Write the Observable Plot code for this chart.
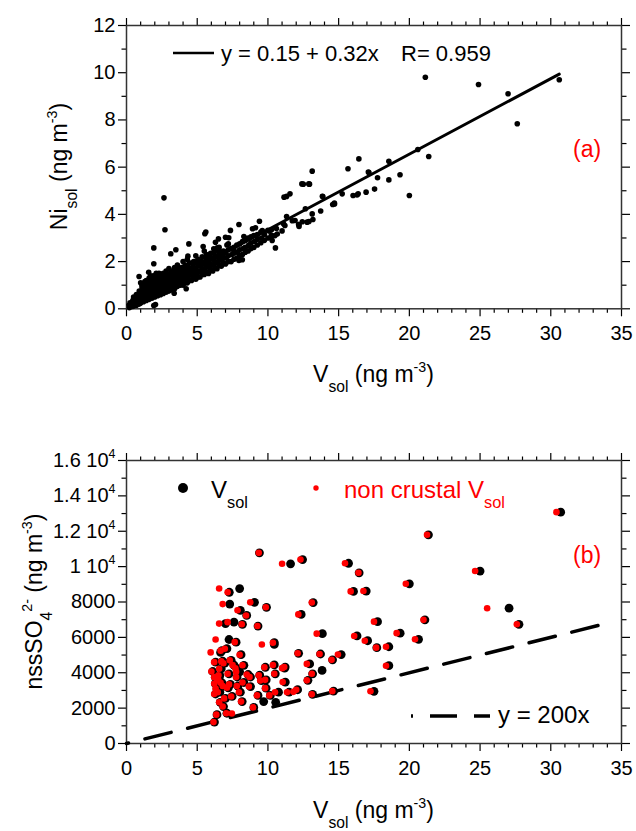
<!DOCTYPE html>
<html><head><meta charset="utf-8">
<script src="https://cdn.jsdelivr.net/npm/d3@7"></script>
<script src="https://cdn.jsdelivr.net/npm/@observablehq/plot@0.6"></script>
<style>
body{margin:0;background:#fff;}
#chart{width:636px;}
svg{display:block;}
</style></head><body><div id="chart"></div>
<script>
// ---------- Panel (a): V_sol vs Ni_sol, [V, Ni] ----------
const panelA = [
[0.2,0.05],[0.2,0.15],[0.25,0.25],[0.4,0.1],[0.4,0.2],[0.45,0.35],[0.5,0.12],[0.55,0.3],[0.5,0.5],[0.7,0.15],[0.7,0.3],[0.75,0.45],[0.7,0.6],[0.9,0.2],[0.9,0.35],[0.95,0.5],[0.9,0.75],[1.0,0.25],[1.05,0.45],[1.0,0.6],[1.1,0.9],[1.0,1.1],[1.2,0.3],[1.25,0.5],[1.2,0.7],[1.3,0.85],[1.2,1.05],[1.4,0.35],[1.45,0.55],[1.4,0.75],[1.5,0.95],[1.4,1.2],[1.6,0.4],[1.65,0.6],[1.6,0.8],[1.7,1.0],[1.6,1.3],[1.8,0.45],[1.85,0.65],[1.8,0.85],[1.9,1.05],[1.8,1.25],[2.0,0.5],[2.05,0.7],[2.0,0.9],[2.1,1.1],[2.0,1.35],[2.1,1.5],[2.2,0.55],[2.25,0.8],[2.2,0.95],[2.3,1.15],[2.2,1.4],[2.4,0.6],[2.45,0.8],[2.4,1.0],[2.5,1.2],[2.4,1.45],[2.6,0.65],[2.65,0.85],[2.6,1.05],[2.7,1.25],[2.6,1.5],[2.8,0.7],[2.85,0.9],[2.8,1.1],[2.9,1.3],[2.8,1.6],[3.0,0.75],[3.05,0.95],[3.0,1.15],[3.1,1.35],[3.0,1.7],[3.2,0.8],[3.25,1.0],[3.2,1.2],[3.3,1.4],[3.2,1.6],[3.4,0.85],[3.45,1.05],[3.4,1.25],[3.5,1.5],[3.4,1.75],[3.6,0.95],[3.65,1.15],[3.6,1.3],[3.7,1.55],[3.6,1.85],[3.8,1.0],[3.85,1.2],[3.8,1.4],[3.9,1.6],[4.0,1.0],[4.05,1.2],[4.0,1.45],[4.1,1.7],[4.0,2.0],[4.3,1.1],[4.35,1.3],[4.3,1.5],[4.4,1.75],[4.3,2.1],[4.6,1.2],[4.65,1.4],[4.6,1.6],[4.7,1.85],[4.9,1.25],[4.95,1.5],[4.9,1.7],[5.0,1.95],[4.9,2.25],[5.2,1.35],[5.25,1.55],[5.2,1.8],[5.3,2.0],[5.5,1.45],[5.55,1.65],[5.5,1.9],[5.6,2.15],[5.5,2.45],[5.8,1.5],[5.85,1.75],[5.8,2.0],[5.9,2.25],[6.1,1.6],[6.15,1.85],[6.1,2.1],[6.2,2.4],[6.4,1.7],[6.45,1.95],[6.4,2.2],[6.5,2.5],[6.7,1.8],[6.75,2.05],[6.7,2.3],[7.0,1.9],[7.05,2.15],[7.0,2.4],[7.1,2.7],[7.4,2.0],[7.45,2.3],[7.4,2.55],[7.8,2.15],[7.85,2.4],[7.8,2.7],[8.2,2.3],[8.25,2.55],[8.2,2.85],[8.6,2.45],[8.65,2.7],[8.6,3.0],[9.0,2.6],[9.05,2.85],[9.0,3.1],[9.5,2.8],[9.55,3.0],[9.5,3.25],[10.0,3.0],[10.1,3.3],[10.5,3.1],[10.6,3.4],[11.0,3.3],[11.1,3.6],
[0.3,0.1],[0.3,0.2],[0.5,0.2],[0.5,0.4],[0.6,0.25],[0.8,0.25],[0.8,0.4],[0.8,0.6],[1.1,0.35],[1.1,0.55],[1.1,0.75],[1.1,1.0],[1.3,0.4],[1.3,0.6],[1.3,0.95],[1.3,1.15],[1.5,0.45],[1.5,0.65],[1.5,0.85],[1.5,1.1],[1.7,0.5],[1.7,0.7],[1.7,0.9],[1.7,1.15],[1.7,1.4],[1.9,0.55],[1.9,0.75],[1.9,0.95],[1.9,1.2],[1.9,1.4],[2.1,0.6],[2.1,0.8],[2.1,1.0],[2.1,1.25],[2.3,0.65],[2.3,0.85],[2.3,1.05],[2.3,1.3],[2.3,1.5],[2.5,0.7],[2.5,0.9],[2.5,1.1],[2.5,1.35],[2.7,0.75],[2.7,0.95],[2.7,1.15],[2.7,1.4],[2.9,0.8],[2.9,1.0],[2.9,1.2],[2.9,1.45],[3.1,0.85],[3.1,1.05],[3.1,1.25],[3.1,1.5],[3.3,0.9],[3.3,1.1],[3.3,1.3],[3.3,1.55],[3.5,0.95],[3.5,1.15],[3.5,1.35],[3.5,1.6],[3.7,1.0],[3.7,1.2],[3.7,1.45],[3.7,1.7],[3.9,1.05],[3.9,1.3],[3.9,1.5],[3.9,1.75],[4.15,1.1],[4.15,1.35],[4.15,1.6],[4.15,1.85],[4.45,1.2],[4.45,1.45],[4.45,1.65],[4.45,1.95],[4.75,1.3],[4.75,1.55],[4.75,1.75],[4.75,2.0],[5.05,1.35],[5.05,1.6],[5.05,1.85],[5.05,2.1],[5.35,1.45],[5.35,1.7],[5.35,1.95],[5.35,2.2],[5.65,1.55],[5.65,1.8],[5.65,2.05],[5.65,2.3],[5.95,1.65],[5.95,1.9],[5.95,2.15],[5.95,2.35],[6.25,1.75],[6.25,2.0],[6.25,2.25],[6.25,2.5],[6.55,1.85],[6.55,2.1],[6.55,2.35],[6.55,2.6],[6.85,1.95],[6.85,2.2],[6.85,2.45],[7.2,2.0],[7.2,2.25],[7.2,2.5],[7.2,2.75],[7.6,2.1],[7.6,2.35],[7.6,2.6],[8.0,2.25],[8.0,2.5],[8.0,2.75],[8.4,2.4],[8.4,2.6],[8.4,2.9],[8.8,2.55],[8.8,2.8],[8.8,3.05],[9.25,2.7],[9.25,2.95],[9.25,3.15],[9.75,2.9],[9.75,3.15],[10.25,3.05],[10.25,3.35],
[21.13,9.81],[24.89,9.5],[26.98,9.11],[30.6,9.7],[27.63,7.84],[20.6,6.75],[21.37,6.45],[20.0,4.8],[19.34,5.68],[18.55,6.25],[18.55,5.46],[17.75,5.55],[17.1,5.79],[17.54,5.07],[16.94,4.94],[16.43,6.35],[15.66,5.93],[16.02,4.8],[16.38,4.87],[15.25,4.87],[14.7,4.48],[14.58,4.42],[13.85,4.77],[13.73,4.14],[13.13,5.83],[12.89,5.29],[12.4,5.29],[13.13,4.02],[13.18,3.78],[12.77,3.67],[12.65,4.24],[12.17,3.57],[12.2,3.49],[11.56,4.87],[11.32,4.76],[11.14,4.73],[11.32,3.91],[11.92,3.74],[11.2,3.53],[9.4,3.71],[10.53,2.58],[10.24,3.11],[10.0,3.32],[8.91,3.39],[7.95,3.57],[7.35,3.32],[6.5,2.96],[5.61,3.25],[5.54,3.18],[4.41,2.75],[5.42,2.64],[7.23,3.01],[7.95,2.05],[8.19,2.08],[2.65,4.7],[2.72,3.35],[1.93,2.58],[3.49,2.5],[3.13,2.33],[1.93,1.91],[1.57,1.55],[0.89,1.37],[1.93,0.14],[2.05,0.18],[4.22,0.85],[3.37,0.66],[12.43,3.69],[12.9,3.7],[9.12,3.43],[7.0,3.03],[6.41,2.58],[6.29,2.82],[4.34,2.23],[9.6,3.31],[8.3,3.06],[8.65,2.68],[7.59,2.47],[6.17,2.54],[10.66,3.17],[10.3,2.89],[11.72,3.73],[12.19,3.57],[13.88,4.75],[14.71,4.44],[16.3,4.82],[17.14,5.77],[12.5,5.28],[12.94,5.28]
];
const fitIntercept = 0.15, fitSlope = 0.32;
const fitRangeX = [0.1, 30.6];

// ---------- Panel (b): [V_sol, non crustal V_sol, nssSO4] ----------
const panelB = [
[30.7,30.4,13080],[21.35,21.25,11800],[9.4,9.35,10780],[11.6,11.0,10160],[12.45,12.3,10400],[15.7,15.45,10190],[16.45,16.4,9650],[25.0,24.65,9750],[20.0,19.75,9030],[16.05,15.85,8600],[16.95,16.75,8620],[27.05,25.5,7650],[27.75,27.6,6740],[21.1,21.0,6990],[17.75,17.5,6890],[20.65,20.4,5890],[19.35,19.1,6240],[16.3,16.1,6080],[17.05,16.85,5810],[18.55,18.35,5470],[17.7,17.65,5420],[18.55,18.35,4400],[17.5,17.25,2950],[13.85,13.45,6210],[13.2,13.1,7970],[12.35,12.15,7300],[9.05,8.75,7980],[9.9,9.85,7700],[8.0,6.55,8760],[7.27,7.15,8550],[7.3,6.8,7880],[8.05,7.85,7530],[8.5,8.45,7240],[7.6,7.15,6860],[7.0,6.55,6780],[8.2,8.15,6740],[9.3,9.25,6640],[10.45,9.57,5600],[10.45,10.35,5700],[7.25,6.3,5880],[7.75,7.65,5730],[6.65,5.95,5150],[6.75,6.65,5250],[8.1,8.0,5020],[7.1,6.95,5360],[6.3,6.2,4600],[6.95,6.85,4540],[8.3,8.2,4420],[7.6,7.5,4430],[6.1,6.0,4070],[6.7,6.55,4230],[7.25,7.15,3940],[8.0,7.75,4050],[7.82,7.75,3760],[6.28,6.2,3750],[6.58,6.5,3570],[6.28,6.2,3380],[6.75,6.65,3430],[8.77,8.7,3760],[9.42,9.35,3860],[9.82,9.75,4310],[10.45,10.35,4440],[11.18,11.0,4260],[10.52,10.45,3940],[9.88,9.8,3600],[9.54,9.45,3560],[8.77,8.65,3220],[9.87,9.8,3130],[7.88,7.8,3250],[7.35,7.25,3340],[11.23,11.04,3470],[11.5,11.35,2900],[10.75,10.5,2900],[10.17,10.1,2720],[9.3,9.22,2720],[8.05,7.95,2900],[7.47,7.4,2660],[9.7,null,2370],[10.55,null,2330],[8.18,8.1,2370],[6.63,6.55,2330],[6.86,6.8,2090],[7.1,7.05,1710],[null,7.45,1700],[6.4,6.35,1630],[6.22,6.15,1210],[12.17,12.1,5100],[13.72,13.65,5060],[15.18,14.95,5030],[14.57,14.5,4730],[12.95,12.75,4500],[13.83,null,4130],[13.16,13.1,3940],[12.83,12.75,3570],[11.22,11.15,4320],[12.1,12.0,3040],[null,11.8,2920],[13.16,13.1,2780],[14.64,14.55,2960],[9.0,8.95,2040],[6.4,6.3,3100],[6.6,6.45,2900],[6.9,6.8,3250],[7.2,7.1,3150],[6.5,6.4,3600],[6.8,6.7,4650],[7.4,7.3,4700],[7.0,6.9,2550],[7.8,7.7,4250],[8.6,8.5,3900],[8.3,8.2,3450],[6.3,6.2,2800],[6.6,6.5,3850]
];
const refRatio = 200;
const refRangeX = [0, 34.3];

// ---------- ticks & labels ----------
const xMajor = [0, 5, 10, 15, 20, 25, 30, 35];
const xMinor = d3.range(0, 36).filter(d => d % 5 !== 0);
const yMajorA = [0, 2, 4, 6, 8, 10, 12];
const yMinorA = [1, 3, 5, 7, 9, 11];
const yMajorB = [0, 2000, 4000, 6000, 8000, 10000, 12000, 14000, 16000];
const yMinorB = [1000, 3000, 5000, 7000, 9000, 11000, 13000, 15000];
const xTitle = "V_{sol} (ng m^{-3})";
const yTitleA = "Ni_{sol} (ng m^{-3})";
const yTitleB = "nssSO_{4}^{2-} (ng m^{-3})";
const legendA = ["y = 0.15 + 0.32x", "R= 0.959"];
const legendB = ["V_{sol}", "non crustal V_{sol}", "y = 200x"];
const panelTags = ["(a)", "(b)"];

const FONT = "'Liberation Sans', Arial, Helvetica, sans-serif";
const W = 636, H1 = 415, H2 = 416;
const SVGNS = "http://www.w3.org/2000/svg";

function rich(node, fs) {
  const s = node.textContent;
  if (!/[\^_]\{/.test(s)) return;
  node.textContent = "";
  const parts = s.split(/([\^_]\{[^}]*\})/).filter(p => p.length);
  let cur = 0;
  for (const p of parts) {
    let txt = p, target = 0, size = fs;
    if (p.startsWith("^{")) { txt = p.slice(2, -1); target = -0.45 * fs; size = 0.62 * fs; }
    else if (p.startsWith("_{")) { txt = p.slice(2, -1); target = 0.42 * fs; size = 0.68 * fs; }
    const t = document.createElementNS(SVGNS, "tspan");
    t.setAttribute("dy", (target - cur).toFixed(2));
    t.setAttribute("font-size", size.toFixed(2));
    t.textContent = txt;
    node.appendChild(t);
    cur = target;
  }
}

function frameAxes(yMajor, yMinor, fmt) {
  const blank = () => "";
  return [
    Plot.axisX(xMajor, {anchor: "bottom", tickSize: 8, tickPadding: 9, label: null, tickFormat: d => String(d), strokeWidth: 1.2}),
    Plot.axisX(xMinor, {anchor: "bottom", tickSize: 4.5, tickFormat: blank, label: null, strokeWidth: 1.2}),
    Plot.axisX(xMajor, {anchor: "top", tickSize: 8, tickFormat: blank, label: null, strokeWidth: 1.2}),
    Plot.axisX(xMinor, {anchor: "top", tickSize: 4.5, tickFormat: blank, label: null, strokeWidth: 1.2}),
    Plot.axisY(yMajor, {anchor: "left", tickSize: 8, tickPadding: 3, label: null, tickFormat: fmt, strokeWidth: 1.2}),
    Plot.axisY(yMinor, {anchor: "left", tickSize: 4.5, tickFormat: blank, label: null, strokeWidth: 1.2}),
    Plot.axisY(yMajor, {anchor: "right", tickSize: 8, tickFormat: blank, label: null, strokeWidth: 1.2}),
    Plot.axisY(yMinor, {anchor: "right", tickSize: 4.5, tickFormat: blank, label: null, strokeWidth: 1.2}),
    Plot.frame({stroke: "#333", strokeWidth: 1.5})
  ];
}

const style = {fontFamily: FONT, fontSize: "20px", color: "#000", background: "#fff", overflow: "visible"};

// ---------- top plot ----------
const plotA = Plot.plot({
  width: W, height: H1,
  marginTop: 25, marginBottom: H1 - 308.3, marginLeft: 126, marginRight: 15,
  style,
  x: {domain: [0, 35]},
  y: {domain: [0, 12]},
  marks: [
    ...frameAxes(yMajorA, yMinorA, d => String(d)),
    Plot.dot(panelA, {x: d => d[0], y: d => d[1], r: 2.8, fill: "#000"}),
    Plot.line(fitRangeX, {x: d => d, y: d => fitIntercept + fitSlope * d, stroke: "#000", strokeWidth: 3})
  ]
});

// ---------- bottom plot ----------
const fmtB = d => d >= 10000 ? `${d / 10000} 10^{4}` : String(d);
const plotB = Plot.plot({
  width: W, height: H2,
  marginTop: 460 - H1, marginBottom: H1 + H2 - 743, marginLeft: 126, marginRight: 15,
  style,
  x: {domain: [0, 35]},
  y: {domain: [0, 16000]},
  marks: [
    ...frameAxes(yMajorB, yMinorB, fmtB),
    Plot.line(refRangeX, {x: d => d, y: d => refRatio * d, stroke: "#000", strokeWidth: 3.5, strokeDasharray: "27 17", strokeDashoffset: 25}),
    Plot.dot(panelB, {x: d => d[0], y: d => d[2], r: 4.4, fill: "#000"}),
    Plot.dot(panelB, {x: d => d[1], y: d => d[2], r: 3.3, fill: "#ff0000"})
  ]
});

const chart = document.getElementById("chart");
chart.appendChild(plotA);
chart.appendChild(plotB);

d3.select(plotB).selectAll("text").each(function() { rich(this, 20); });

function addText(svg, str, x, y, opts = {}) {
  const fs = opts.fs || 23;
  const t = d3.select(svg).append("text")
    .attr("x", x).attr("y", y)
    .attr("font-size", fs)
    .attr("font-family", FONT)
    .attr("fill", opts.fill || "#000")
    .attr("text-anchor", opts.anchor || "start")
    .text(str);
  if (opts.rotate) t.attr("transform", `rotate(-90 ${x} ${y})`);
  rich(t.node(), fs);
  return t;
}

// Panel (a) decorations
addText(plotA, xTitle, 373.5, 382, {anchor: "middle"});
addText(plotA, yTitleA, 67, 166.5, {anchor: "middle", rotate: true});
d3.select(plotA).append("line").attr("x1", 173).attr("x2", 214).attr("y1", 53).attr("y2", 53)
  .attr("stroke", "#000").attr("stroke-width", 2.5);
addText(plotA, legendA[0], 221, 61, {fs: 22});
addText(plotA, legendA[1], 401, 61, {fs: 22});
addText(plotA, panelTags[0], 573, 157, {fill: "#ff0000"});

// Panel (b) decorations (y relative to this svg)
const o = H1;
addText(plotB, xTitle, 373.5, 818 - o, {anchor: "middle"});
addText(plotB, yTitleB, 42, 601.5 - o, {anchor: "middle", rotate: true});
const gB = d3.select(plotB);
gB.append("circle").attr("cx", 183).attr("cy", 488 - o).attr("r", 5).attr("fill", "#000");
addText(plotB, legendB[0], 211, 498 - o, {fs: 24});
gB.append("circle").attr("cx", 316).attr("cy", 488 - o).attr("r", 2.7).attr("fill", "#ff0000");
addText(plotB, legendB[1], 344, 498 - o, {fill: "#ff0000", fs: 24});
gB.append("line").attr("x1", 411).attr("x2", 490).attr("y1", 716 - o).attr("y2", 716 - o)
  .attr("stroke", "#000").attr("stroke-width", 3.5)
  .attr("stroke-dasharray", "27 17").attr("stroke-dashoffset", 25);
addText(plotB, legendB[2], 498, 723 - o, {fs: 24});
addText(plotB, panelTags[1], 573, 563 - o, {fill: "#ff0000"});
</script>
</body></html>
